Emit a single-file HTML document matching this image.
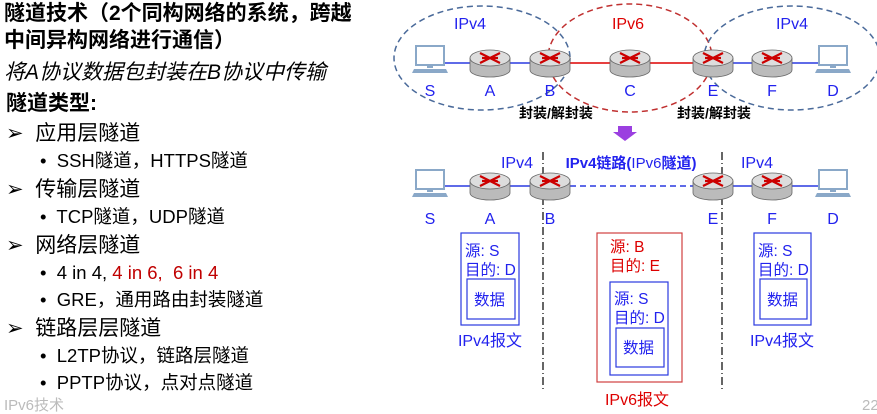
<!DOCTYPE html>
<html><head><meta charset="utf-8"><style>
body{margin:0;width:877px;height:409px;background:#fff;overflow:hidden;position:relative;font-family:"Liberation Sans","Noto Sans CJK SC",sans-serif}
.t{position:absolute;white-space:nowrap;line-height:1}
</style></head><body>
<div class="t" style="left:4px;top:3px;font-size:21px;font-weight:bold">隧道技术（2个同构网络的系统，跨越</div>
<div class="t" style="left:4px;top:30px;font-size:21px;font-weight:bold">中间异构网络进行通信）</div>
<div class="t" style="left:4px;top:62px;font-size:21px;font-style:italic">将A协议数据包封装在B协议中传输</div>
<div class="t" style="left:6px;top:93px;font-size:21px;font-weight:bold">隧道类型:</div>
<div class="t" style="left:6px;top:123px;font-size:21px">➢&nbsp; 应用层隧道</div>
<div class="t" style="left:40px;top:152px;font-size:18.5px">•&nbsp; SSH隧道，HTTPS隧道</div>
<div class="t" style="left:6px;top:179px;font-size:21px">➢&nbsp; 传输层隧道</div>
<div class="t" style="left:40px;top:208px;font-size:18.5px">•&nbsp; TCP隧道，UDP隧道</div>
<div class="t" style="left:6px;top:235px;font-size:21px">➢&nbsp; 网络层隧道</div>
<div class="t" style="left:40px;top:264px;font-size:18.5px">•&nbsp; 4 in 4, <span style="color:#c00000">4 in 6, &nbsp;6 in 4</span></div>
<div class="t" style="left:40px;top:291px;font-size:18.5px">•&nbsp; GRE，通用路由封装隧道</div>
<div class="t" style="left:6px;top:318px;font-size:21px">➢&nbsp; 链路层层隧道</div>
<div class="t" style="left:40px;top:347px;font-size:18.5px">•&nbsp; L2TP协议，链路层隧道</div>
<div class="t" style="left:40px;top:374px;font-size:18.5px">•&nbsp; PPTP协议，点对点隧道</div>
<div class="t" style="left:4px;top:398px;font-size:15px;color:#bbb">IPv6技术</div>
<div class="t" style="left:862px;top:398px;font-size:15px;color:#bbb">22</div>

<svg width="877" height="409" style="position:absolute;left:0;top:0" font-family="Liberation Sans, Noto Sans CJK SC, sans-serif">
<defs>
<g id="r">
<path d="M-20,-5 v12 a20,7 0 0 0 40,0 v-12" fill="#bbb" stroke="#666" stroke-width="0.8"/>
<ellipse cx="0" cy="-5" rx="20" ry="8" fill="#ddd" stroke="#666" stroke-width="0.8"/>
<path d="M-10,-10 L10,0 M10,-10 L-10,0 M-8,-5 L8,-5" stroke="#c00" stroke-width="2.2"/>
</g>
<g id="pc">
<rect x="-14" y="-12" width="28" height="19" fill="#fff" stroke="#8aa8c8" stroke-width="2"/>
<rect x="-3" y="7" width="6" height="3" fill="#8aa8c8"/>
<path d="M-16,11 h32 l2,4 h-36z" fill="#8aa8c8"/>
</g>
</defs>
<ellipse cx="482" cy="58" rx="88" ry="52" fill="none" stroke="#4a6a9a" stroke-width="1.5" stroke-dasharray="6,4"/>
<ellipse cx="630" cy="58" rx="82" ry="54" fill="none" stroke="#c03030" stroke-width="1.5" stroke-dasharray="6,4"/>
<ellipse cx="792" cy="58" rx="88" ry="52" fill="none" stroke="#4a6a9a" stroke-width="1.5" stroke-dasharray="6,4"/>
<line x1="440" y1="63" x2="550" y2="63" stroke="#2a3ae0" stroke-width="1.5"/>
<line x1="550" y1="63" x2="713" y2="63" stroke="#d00" stroke-width="1.5"/>
<line x1="713" y1="63" x2="823" y2="63" stroke="#2a3ae0" stroke-width="1.5"/>
<use href="#pc" x="430" y="58"/><use href="#r" x="490" y="63"/><use href="#r" x="550" y="63"/><use href="#r" x="630" y="63"/><use href="#r" x="713" y="63"/><use href="#r" x="772" y="63"/><use href="#pc" x="833" y="58"/>
<g fill="#2222ee" font-size="16" text-anchor="middle">
<text x="470" y="29">IPv4</text><text x="628" y="29" fill="#d00">IPv6</text><text x="792" y="29">IPv4</text>
<text x="430" y="96">S</text><text x="490" y="96">A</text><text x="550" y="96">B</text><text x="630" y="96">C</text><text x="713" y="96">E</text><text x="772" y="96">F</text><text x="833" y="96">D</text>
</g>
<g font-size="14" font-weight="bold" text-anchor="middle"><text x="556" y="118">封装/解封装</text><text x="714" y="118">封装/解封装</text></g>
<path d="M618,126 h14 v6 h5 l-12,9 l-12,-9 h5z" fill="#9b3fe0"/>
<g stroke="#000" stroke-width="1.2" stroke-dasharray="8,3,1,3"><line x1="543" y1="152" x2="543" y2="390"/><line x1="722" y1="152" x2="722" y2="390"/></g>
<g fill="#2222ee" font-size="16" text-anchor="middle">
<text x="517" y="168">IPv4</text><text x="757" y="168">IPv4</text>
<text x="631" y="168" font-weight="bold" font-size="15">IPv4链路(<tspan font-weight="normal">IPv6</tspan>隧道)</text>
</g>
<line x1="440" y1="186" x2="550" y2="186" stroke="#2a3ae0" stroke-width="1.5"/>
<line x1="550" y1="186" x2="713" y2="186" stroke="#2a3ae0" stroke-width="1.5" stroke-dasharray="6,4"/>
<line x1="713" y1="186" x2="823" y2="186" stroke="#2a3ae0" stroke-width="1.5"/>
<use href="#pc" x="430" y="182"/><use href="#r" x="490" y="186"/><use href="#r" x="550" y="186"/><use href="#r" x="713" y="186"/><use href="#r" x="772" y="186"/><use href="#pc" x="833" y="182"/>
<g fill="#2222ee" font-size="16" text-anchor="middle">
<text x="430" y="224">S</text><text x="490" y="224">A</text><text x="550" y="224">B</text><text x="713" y="224">E</text><text x="772" y="224">F</text><text x="833" y="224">D</text>
</g>
<g fill="none" stroke="#2a3ae0" stroke-width="1.2">
<rect x="461" y="233" width="58" height="92"/><rect x="467" y="279" width="48" height="40"/>
<rect x="754" y="233" width="57" height="92"/><rect x="760" y="279" width="47" height="40"/>
<rect x="610" y="282" width="58" height="93"/><rect x="616" y="328" width="48" height="39"/>
</g>
<rect x="597" y="233" width="85" height="149" fill="none" stroke="#d04040" stroke-width="1.2"/>
<g fill="#2222ee" font-size="15.5">
<text x="465" y="256">源: S</text><text x="465" y="275">目的: D</text><text x="474" y="305">数据</text>
<text x="758" y="256">源: S</text><text x="758" y="275">目的: D</text><text x="767" y="305">数据</text>
<text x="614" y="304">源: S</text><text x="614" y="323">目的: D</text><text x="623" y="353">数据</text>
<text x="610" y="252" fill="#d00">源: B</text><text x="610" y="271" fill="#d00">目的: E</text>
</g>
<g font-size="16" text-anchor="middle"><text x="490" y="346" fill="#2222ee">IPv4报文</text><text x="782" y="346" fill="#2222ee">IPv4报文</text><text x="637" y="405" fill="#d00">IPv6报文</text></g>
</svg>
</body></html>
